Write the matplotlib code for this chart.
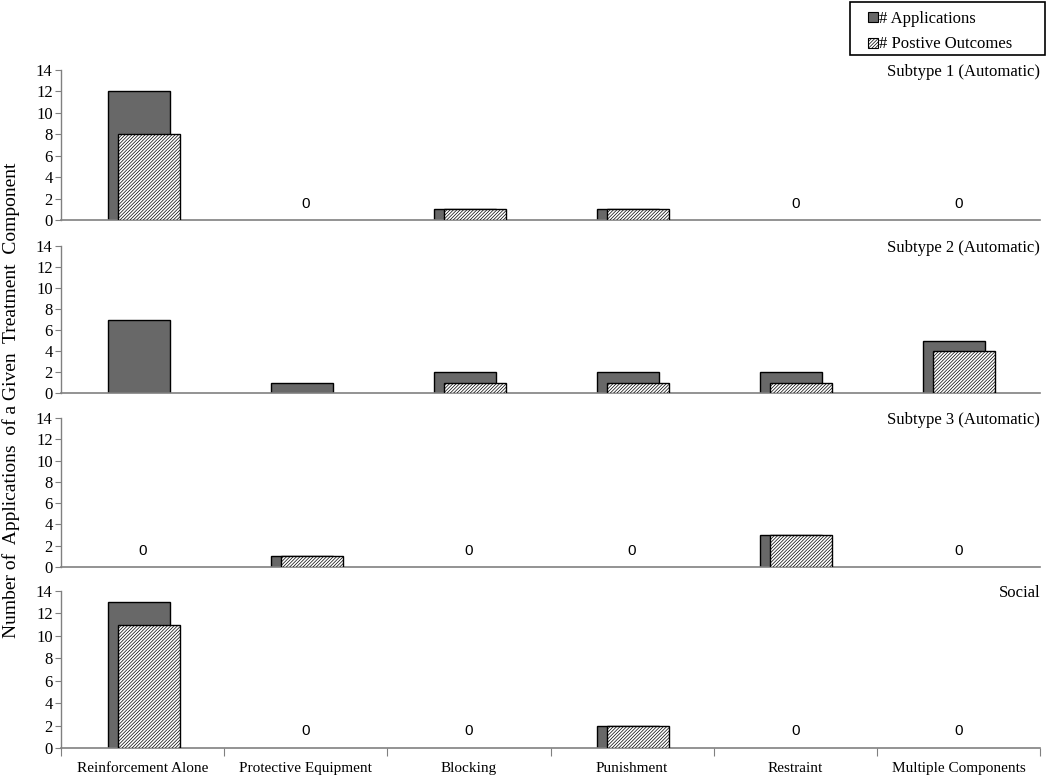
import matplotlib
matplotlib.use("Agg")
import matplotlib.pyplot as plt
import numpy as np
from matplotlib.patches import Patch, Rectangle

plt.rcParams['font.family'] = ['Liberation Serif', 'DejaVu Serif']
plt.rcParams['hatch.color'] = '#a0a0a0'
plt.rcParams['hatch.linewidth'] = 0.5

categories = ["Reinforcement Alone", "Protective Equipment", "Blocking",
              "Punishment", "Restraint", "Multiple Components"]
panel_titles = ["Subtype 1 (Automatic)", "Subtype 2 (Automatic)",
                "Subtype 3 (Automatic)", "Social"]
applications = [
    [12, 0, 1, 1, 0, 0],
    [7, 1, 2, 2, 2, 5],
    [0, 1, 0, 0, 3, 0],
    [13, 0, 0, 2, 0, 0],
]
positive = [
    [8, 0, 1, 1, 0, 0],
    [0, 0, 1, 1, 1, 4],
    [0, 1, 0, 0, 3, 0],
    [11, 0, 0, 2, 0, 0],
]
yticks = [0, 2, 4, 6, 8, 10, 12, 14]
legend_labels = ["# Applications", "# Postive Outcomes"]

W, H = 1050, 777
fig = plt.figure(figsize=(W / 100, H / 100), dpi=100)

panels_px = [(70, 220), (246, 393), (418, 567), (591, 748)]
left_px, right_px = 61, 1040

x = np.arange(len(categories))
bw = 0.38
off_app = -0.215
off_pos = -0.153
hatch = '/' * 10
dark = '#686868'

for i, (t, b) in enumerate(panels_px):
    ax = fig.add_axes([left_px / W, 1 - b / H, (right_px - left_px) / W, (b - t) / H])
    app = np.array(applications[i], dtype=float)
    pos = np.array(positive[i], dtype=float)
    ma = app > 0
    mp = pos > 0
    ax.bar(x[ma] + off_app, app[ma], width=bw, align='edge', color=dark,
           edgecolor='black', linewidth=1.0, zorder=2)
    ax.bar(x[mp] + off_pos, pos[mp], width=bw, align='edge', color='white',
           edgecolor='black', linewidth=1.0, hatch=hatch, zorder=3)
    for j in range(len(categories)):
        if app[j] == 0 and pos[j] == 0:
            ax.text(x[j], 1.5, "0", ha='center', va='center', fontsize=11,
                    family=['Liberation Sans', 'DejaVu Sans'])
    ax.set_xlim(-0.5, len(categories) - 0.5)
    ax.set_ylim(0, 14)
    ax.set_yticks(yticks)
    ax.tick_params(axis='y', labelsize=12, length=4, color='#808080', pad=2)
    for s in ['top', 'right']:
        ax.spines[s].set_visible(False)
    ax.spines['left'].set_color('#808080')
    ax.spines['bottom'].set_color('#808080')
    ax.spines['left'].set_linewidth(1.0)
    ax.spines['bottom'].set_linewidth(1.2)
    ax.text(1.0, 0.985, panel_titles[i], transform=ax.transAxes, ha='right',
            va='center', fontsize=12)
    if i < 3:
        ax.set_xticks([])
    else:
        ax.set_xticks(np.arange(-0.5, len(categories), 1.0), minor=False)
        ax.set_xticklabels([])
        ax.tick_params(axis='x', length=6, direction='out', color='#808080')
        ax.set_xticks(x, minor=True)
        ax.set_xticklabels(categories, minor=True, fontsize=11)
        ax.tick_params(axis='x', which='minor', length=0, pad=10)

fig.text(11 / W, 1 - 400 / H, "Number of  Applications  of a Given  Treatment  Component",
         rotation=90, ha='center', va='center', fontsize=14)

fig.patches.append(Rectangle((850 / W, 1 - 55 / H), 195 / W, 53 / H,
                             transform=fig.transFigure, facecolor='white',
                             edgecolor='black', linewidth=1.2, zorder=0))
handles = [Patch(facecolor=dark, edgecolor='black', linewidth=0.8),
           Patch(facecolor='white', edgecolor='black', linewidth=0.8, hatch=hatch)]
leg = fig.legend(handles, legend_labels,
                 loc='upper left', bbox_to_anchor=(865 / W, 1 - 8 / H),
                 fontsize=12, frameon=False, handlelength=0.55,
                 handleheight=0.55, handletextpad=0.1, borderpad=0.2,
                 labelspacing=0.55, borderaxespad=0)

fig.savefig("out.png", dpi=100)
